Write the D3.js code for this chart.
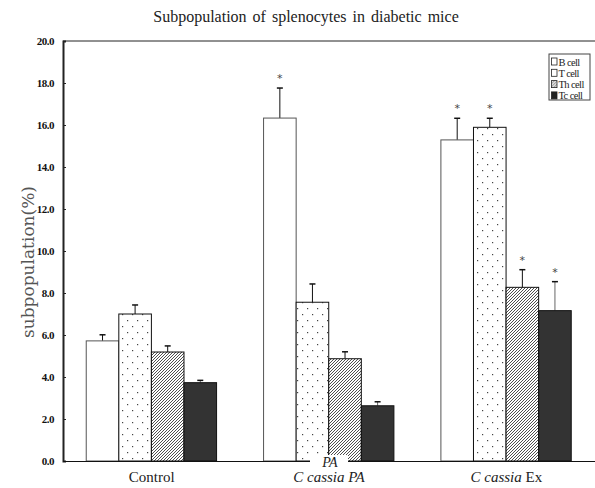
<!DOCTYPE html>
<html>
<head>
<meta charset="utf-8">
<script src="https://cdn.jsdelivr.net/npm/d3@7"></script>
<style>
  body { margin: 0; background: #fff; }
  svg { display: block; }
</style>
</head>
<body>
<div id="chart"></div>
<script>
// chart data
var groups = ['Control', 'C cassia PA', 'C cassia Ex']
var cellTypes = ['B cell', 'T cell', 'Th cell', 'Tc cell']
var meanB = [5.72, 16.33, 15.29]
var meanT = [7.0, 7.56, 15.89]
var meanTh = [5.19, 4.87, 8.27]
var meanTc = [3.73, 2.63, 7.16]
var errB = [0.29, 1.43, 1.03]
var errT = [0.43, 0.87, 0.43]
var errTh = [0.29, 0.33, 0.84]
var errTc = [0.11, 0.19, 1.38]
// significance marks (1 = asterisk)
var sigB = [0, 1, 1]
var sigT = [0, 0, 1]
var sigTh = [0, 0, 1]
var sigTc = [0, 0, 1]
var yTicks = [0, 2, 4, 6, 8, 10, 12, 14, 16, 18, 20]

var width = 595
var height = 488
var plot = { left: 63, right: 595, top: 41, bottom: 461 }

var svg = d3.select('#chart').append('svg')
  .attr('width', width)
  .attr('height', height)

// patterns for the bar fills
var defs = svg.append('defs')
var dots = defs.append('pattern')
  .attr('id', 'dots')
  .attr('patternUnits', 'userSpaceOnUse')
  .attr('width', 10)
  .attr('height', 12)
dots.append('rect').attr('width', 10).attr('height', 12).attr('fill', '#fff')
dots.append('rect').attr('x', 2).attr('y', 2).attr('width', 1.2).attr('height', 1.2).attr('fill', '#444')
dots.append('rect').attr('x', 7).attr('y', 8).attr('width', 1.2).attr('height', 1.2).attr('fill', '#444')

var hatch = defs.append('pattern')
  .attr('id', 'hatch')
  .attr('patternUnits', 'userSpaceOnUse')
  .attr('width', 3)
  .attr('height', 3)
hatch.append('rect').attr('width', 3).attr('height', 3).attr('fill', '#fff')
hatch.append('path')
  .attr('d', 'M-1,1 l2,-2 M0,3 l3,-3 M2,4 l2,-2')
  .attr('stroke', '#222')
  .attr('stroke-width', 0.8)

var fills = ['#fff', 'url(#dots)', 'url(#hatch)', '#333']

// scales
var x0 = d3.scaleBand().domain(groups).range([plot.left, plot.right]).padding(0)
var x1 = d3.scaleBand().domain(cellTypes)
  .range([x0.bandwidth() * 0.131, x0.bandwidth() * 0.866])
var y = d3.scaleLinear().domain([0, 20]).range([plot.bottom, plot.top])

var means = [meanB, meanT, meanTh, meanTc]
var errs = [errB, errT, errTh, errTc]
var sigs = [sigB, sigT, sigTh, sigTc]

var bars = []
groups.forEach(function (g, gi) {
  cellTypes.forEach(function (c, ci) {
    bars.push({ group: g, type: c, ci: ci, value: means[ci][gi], err: errs[ci][gi], sig: sigs[ci][gi] })
  })
})

// frame
svg.append('line')
  .attr('x1', plot.left).attr('x2', plot.right)
  .attr('y1', plot.top).attr('y2', plot.top)
  .attr('stroke', '#222').attr('stroke-width', 1)

// error bars (up only)
var eb = svg.append('g')
eb.selectAll('line.err')
  .data(bars)
  .enter()
  .append('line')
  .attr('x1', function (d) { return x0(d.group) + x1(d.type) + x1.bandwidth() / 2 })
  .attr('x2', function (d) { return x0(d.group) + x1(d.type) + x1.bandwidth() / 2 })
  .attr('y1', function (d) { return y(d.value) })
  .attr('y2', function (d) { return y(d.value + d.err) })
  .attr('stroke', function (d) { return d.ci === 3 ? '#666' : '#111' })
  .attr('stroke-width', 1)
eb.selectAll('line.cap')
  .data(bars)
  .enter()
  .append('line')
  .attr('x1', function (d) { return x0(d.group) + x1(d.type) + x1.bandwidth() / 2 - 3 })
  .attr('x2', function (d) { return x0(d.group) + x1(d.type) + x1.bandwidth() / 2 + 3 })
  .attr('y1', function (d) { return y(d.value + d.err) })
  .attr('y2', function (d) { return y(d.value + d.err) })
  .attr('stroke', '#111')
  .attr('stroke-width', 1.5)

// bars
svg.append('g')
  .selectAll('rect')
  .data(bars)
  .enter()
  .append('rect')
  .attr('x', function (d) { return x0(d.group) + x1(d.type) })
  .attr('y', function (d) { return y(d.value) })
  .attr('width', x1.bandwidth())
  .attr('height', function (d) { return y(0) - y(d.value) })
  .attr('fill', function (d) { return fills[d.ci] })
  .attr('stroke', function (d) { return d.ci === 0 ? '#555' : '#111' })
  .attr('stroke-width', 1)

// asterisks
svg.append('g')
  .selectAll('text')
  .data(bars.filter(function (d) { return d.sig }))
  .enter()
  .append('text')
  .attr('x', function (d) { return x0(d.group) + x1(d.type) + x1.bandwidth() / 2 })
  .attr('y', function (d) { return y(d.value + d.err) - 6 })
  .attr('text-anchor', 'middle')
  .attr('font-family', 'DejaVu Sans, sans-serif')
  .attr('font-size', 11)
  .attr('fill', '#444')
  .text('*')

// axes
var yAxis = d3.axisLeft(y).tickValues(yTicks).tickSize(-3).tickPadding(9)
  .tickFormat(d3.format('.1f'))
var gy = svg.append('g')
  .attr('transform', 'translate(' + plot.left + ',0)')
  .call(yAxis)
gy.select('.domain').attr('stroke', '#222').attr('stroke-width', 2)
gy.selectAll('.tick line').attr('stroke', '#222')
gy.selectAll('.tick text')
  .attr('font-family', 'Liberation Serif, serif')
  .attr('font-weight', 'bold')
  .attr('font-size', 11)
  .attr('letter-spacing', -0.5)
  .attr('fill', '#111')

var xAxis = d3.axisBottom(x0).tickSize(0).tickFormat('')
var gx = svg.append('g')
  .attr('transform', 'translate(0,' + plot.bottom + ')')
  .call(xAxis)
gx.select('.domain').attr('stroke', '#111').attr('stroke-width', 1.2)

// stray "PA" box over the axis
var paX = x0('C cassia PA') + x0.bandwidth() / 2
svg.append('rect')
  .attr('x', paX - 19).attr('y', plot.bottom - 6)
  .attr('width', 38).attr('height', 14)
  .attr('fill', '#fff')
svg.append('text')
  .attr('x', paX + 1).attr('y', plot.bottom + 6)
  .attr('text-anchor', 'middle')
  .attr('font-family', 'Liberation Serif, serif')
  .attr('font-style', 'italic')
  .attr('font-size', 14)
  .attr('fill', '#222')
  .text('PA')

// group labels
var labelParts = {
  'Control': [['Control', false]],
  'C cassia PA': [['C cassia', true], [' PA', true]],
  'C cassia Ex': [['C cassia', true], [' Ex', false]]
}
groups.forEach(function (g) {
  var t = svg.append('text')
    .attr('x', x0(g) + x0.bandwidth() / 2)
    .attr('y', 482)
    .attr('text-anchor', 'middle')
    .attr('font-family', 'Liberation Serif, serif')
    .attr('font-size', 15)
    .attr('fill', '#222')
  labelParts[g].forEach(function (p) {
    t.append('tspan').attr('font-style', p[1] ? 'italic' : 'normal').text(p[0])
  })
})

// y axis title
svg.append('text')
  .attr('transform', 'translate(34,262) rotate(-90)')
  .attr('text-anchor', 'middle')
  .attr('font-family', 'DejaVu Serif, serif')
  .attr('font-weight', 300)
  .attr('font-size', 17)
  .attr('fill', '#555')
  .text('subpopulation(%)')

// chart title
svg.append('text')
  .attr('x', 306)
  .attr('y', 22)
  .attr('text-anchor', 'middle')
  .attr('font-family', 'Liberation Serif, serif')
  .attr('font-size', 16)
  .attr('word-spacing', 2)
  .attr('fill', '#222')
  .text('Subpopulation of splenocytes in diabetic mice')

// legend
var legend = svg.append('g').attr('transform', 'translate(549,54)')
legend.append('rect')
  .attr('width', 41).attr('height', 46)
  .attr('fill', '#fff').attr('stroke', '#444').attr('stroke-width', 1)
var legFills = ['#fff', '#fff', 'url(#hatch)', '#222']
var li = legend.selectAll('g.item')
  .data(cellTypes)
  .enter()
  .append('g')
  .attr('transform', function (d, i) { return 'translate(2.5,' + (4 + i * 11.3) + ')' })
li.append('rect')
  .attr('width', 5.5).attr('height', 7)
  .attr('fill', function (d, i) { return legFills[i] })
  .attr('stroke', '#222').attr('stroke-width', 0.8)
li.append('text')
  .attr('x', 7).attr('y', 7.5)
  .attr('font-family', 'Liberation Serif, serif')
  .attr('font-size', 10.5)
  .attr('letter-spacing', -0.6)
  .attr('fill', '#222')
  .text(function (d) { return d })
</script>
</body>
</html>
